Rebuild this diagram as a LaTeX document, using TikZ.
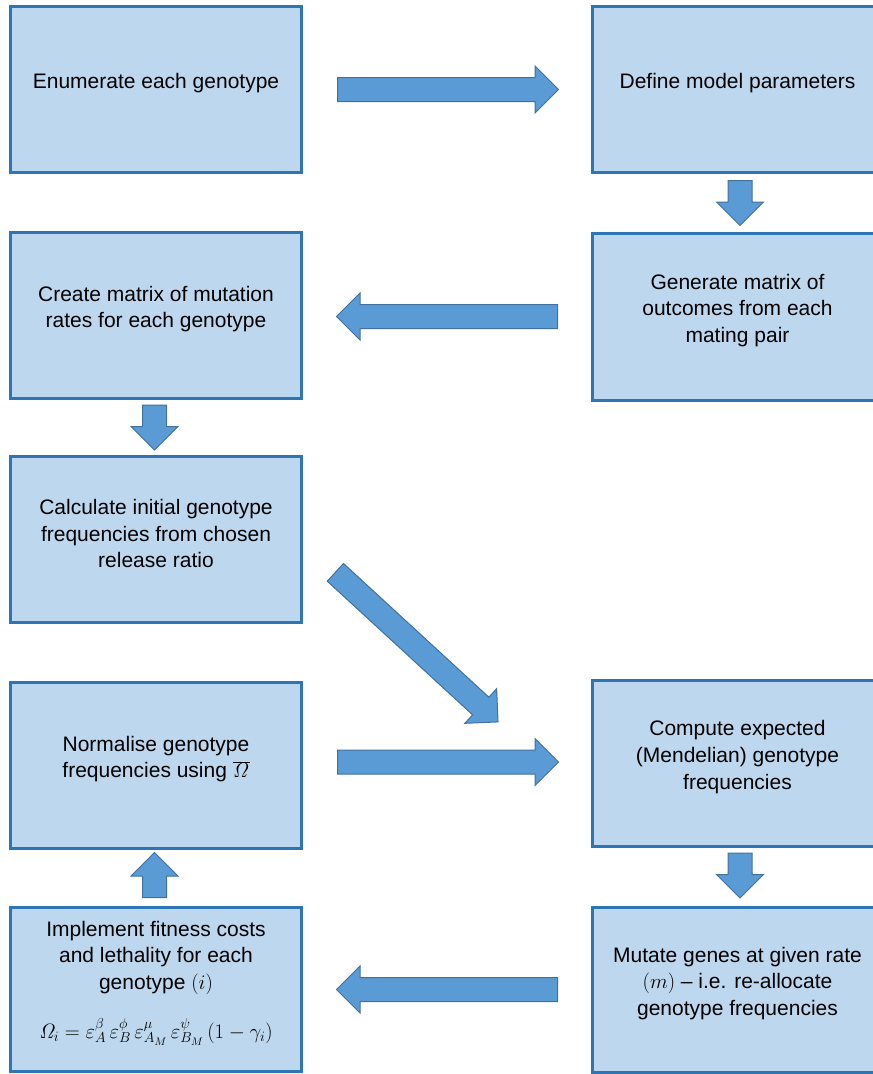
\documentclass[tikz,border=0pt]{standalone}
\usepackage[no-math]{fontspec}
\setmainfont{Liberation Sans}
\usetikzlibrary{shapes.arrows,calc,positioning}
\definecolor{boxfill}{HTML}{BDD7EE}
\definecolor{boxline}{HTML}{2E75B6}
\definecolor{arrfill}{HTML}{5B9BD5}
\definecolor{arrline}{HTML}{41719C}

\begin{document}
\begin{tikzpicture}[x=1pt,y=-1pt,
		box/.style={draw=boxline,fill=boxfill,line width=3pt,minimum width=291pt,minimum height=166pt,inner sep=0pt},
		txt/.style={align=center,font=\fontsize{21}{26.7}\selectfont,inner sep=0pt},
		barrow/.style={single arrow,draw=arrline,fill=arrfill,line width=1pt,inner sep=11.5pt,single arrow head extend=11.5pt,anchor=tail},
		longarr/.style={barrow,minimum height=221pt},
		shortarr/.style={barrow,minimum height=45pt}]
		\useasboundingbox (0,0) rectangle (873,1074);
		\clip (0,0) rectangle (873,1074);
		% boxes
		\node[box] (enum) at (156,89.5) {};
		\node[box] (param) at (737.5,89.5) {};
		\node[box,minimum height=167pt] (outc) at (737.5,316.5) {};
		\node[box] (mutmat) at (156,315) {};
		\node[box] (init) at (156,539.5) {};
		\node[box] (expect) at (737.5,763) {};
		\node[box] (norm) at (156,765) {};
		\node[box,minimum height=164pt] (fit) at (156,989) {};
		\node[box,minimum height=165pt] (mutate) at (737.5,989.5) {};
		% texts
		\node[txt] (enumtxt) at ([yshift=6pt]enum.center) {Enumerate each genotype};
		\node[txt] (paramtxt) at ([yshift=6pt]param.center) {Define model parameters};
		\node[txt] (outctxt) at ([yshift=6pt]outc.center) {Generate matrix of\\outcomes from each\\mating pair};
		\node[txt] (mutmattxt) at ([yshift=6pt]mutmat.center) {Create matrix of mutation\\rates for each genotype};
		\node[txt] (inittxt) at ([yshift=6pt]init.center) {Calculate initial genotype\\frequencies from chosen\\release ratio};
		\node[txt] (expecttxt) at ([yshift=6pt]expect.center) {Compute expected\\(Mendelian) genotype\\frequencies};
		\node[txt] (normtxt) at ([yshift=6pt]norm.center) {Normalise genotype\\frequencies using $\overline{\mathit{\Omega}}$};
		\node[txt] (fittxt) at ([yshift=6pt]fit.center) {Implement fitness costs\\and lethality for each\\genotype $(i)$\\[22pt]
			$\mathit{\Omega}_i=\varepsilon_A^{\beta}\,\varepsilon_B^{\phi}\,\varepsilon_{A_M}^{\mu}\,\varepsilon_{B_M}^{\psi}\,(1-\gamma_i)$};
		\node[txt] (mutatetxt) at ([yshift=6pt]mutate.center) {Mutate genes at given rate\\$(m)$ -- i.e. re-allocate\\genotype frequencies};
		% block arrows (placed by their tails)
		\node[longarr] (a1) at ([xshift=34pt]enum.east) {};
		\node[shortarr,rotate=-90] (a2) at ([xshift=2.5pt,yshift=-6pt]param.south) {};
		\node[longarr,rotate=180] (a3) at ([xshift=-32.5pt]outc.west) {};
		\node[shortarr,rotate=-90] (a4) at ([xshift=-1.5pt,yshift=-5pt]mutmat.south) {};
		\node[longarr,rotate=-42.6] (a5) at (335,572) {};
		\node[longarr] (a6) at ([xshift=34pt,yshift=3pt]norm.east) {};
		\node[shortarr,rotate=-90] (a7) at ([xshift=2.5pt,yshift=-5pt]expect.south) {};
		\node[longarr,rotate=180] (a8) at ([xshift=-32.5pt]mutate.west) {};
		\node[shortarr,rotate=90] (a9) at ([xshift=-1.5pt,yshift=7.5pt]fit.north) {};
\end{tikzpicture}
\end{document}
